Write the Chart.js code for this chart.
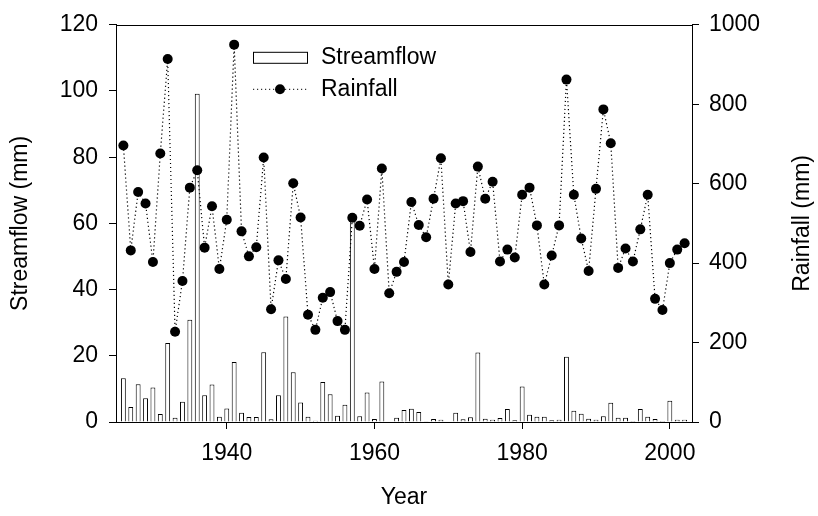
<!DOCTYPE html>
<html>
<head>
<meta charset="utf-8">
<script src="https://cdn.jsdelivr.net/npm/chart.js@4.4.1/dist/chart.umd.min.js"></script>
<style>
  html, body { margin: 0; padding: 0; background: #fff; }
  #wrap { width: 818px; height: 516px; position: relative; }
</style>
</head>
<body>
<div id="wrap"><canvas id="flowChart"></canvas></div>
<script>
// annual series, 1926 - 2002
const years = [
  1926, 1927, 1928, 1929, 1930, 1931, 1932, 1933, 1934, 1935,
  1936, 1937, 1938, 1939, 1940, 1941, 1942, 1943, 1944, 1945,
  1946, 1947, 1948, 1949, 1950, 1951, 1952, 1953, 1954, 1955,
  1956, 1957, 1958, 1959, 1960, 1961, 1962, 1963, 1964, 1965,
  1966, 1967, 1968, 1969, 1970, 1971, 1972, 1973, 1974, 1975,
  1976, 1977, 1978, 1979, 1980, 1981, 1982, 1983, 1984, 1985,
  1986, 1987, 1988, 1989, 1990, 1991, 1992, 1993, 1994, 1995,
  1996, 1997, 1998, 1999, 2000, 2001, 2002
];

// streamflow (mm)
const streamflow = [
  13.2, 4.5, 11.4, 7.2, 10.4, 2.4, 23.9, 1.3, 6.1, 30.9,
  99.2, 8.1, 11.3, 1.6, 4.1, 18.1, 2.8, 1.5, 1.5, 21.1,
  0.8, 8.1, 31.9, 15.0, 5.9, 1.6, 0.4, 12.1, 8.4, 1.9,
  5.2, 61.3, 1.7, 8.9, 0.9, 12.2, 0, 1.3, 3.6, 4.0,
  3.0, 0.2, 0.9, 0.7, 0, 2.8, 0.8, 1.4, 21.0, 1.0,
  0.7, 1.2, 3.9, 0.5, 10.7, 2.2, 1.6, 1.6, 0.5, 0.7,
  19.7, 3.4, 2.5, 1.0, 0.7, 1.7, 5.8, 1.3, 1.3, 0.3,
  3.9, 1.6, 0.9, 0.3, 6.4, 0.7, 0.7
];

// rainfall (mm)
const rainfall = [
  696, 432, 579, 550, 403, 676, 914, 227, 355, 590,
  634, 439, 543, 385, 509, 950, 480, 417, 440, 666,
  284, 407, 360, 601, 515, 270, 232, 313, 327, 254,
  232, 514, 494, 560, 385, 638, 324, 378, 403, 554,
  496, 465, 562, 664, 346, 550, 556, 428, 643, 562,
  605, 404, 434, 414, 572, 590, 495, 346, 419, 495,
  862, 572, 462, 380, 587, 787, 702, 388, 437, 404,
  485, 572, 310, 282, 400, 434, 450
];

const yearTicks = [1940, 1960, 1980, 2000];
const flowTicks = [0, 20, 40, 60, 80, 100, 120];
const rainTicks = [0, 200, 400, 600, 800, 1000];

const FONT = "'Liberation Sans', Arial, Helvetica, sans-serif";
Chart.defaults.font.family = FONT;
Chart.defaults.font.size = 23;
Chart.defaults.color = '#000';

// outward tick marks, no grid inside the plot
function axisGrid() {
  return {
    display: true,
    offset: false,
    drawOnChartArea: false,
    drawTicks: true,
    tickLength: 7,
    tickColor: '#000',
    tickWidth: 1
  };
}

// top frame line, legend and right-hand title
const extrasPlugin = {
  id: 'extras',
  afterDraw(chart) {
    const ctx = chart.ctx;
    const area = chart.chartArea;
    ctx.save();

    ctx.strokeStyle = '#000';
    ctx.lineWidth = 1;
    ctx.beginPath();
    ctx.moveTo(area.left, Math.round(area.top) + 0.5);
    ctx.lineTo(area.right, Math.round(area.top) + 0.5);
    ctx.stroke();

    // legend
    const lx = area.left + 137;
    const ly = area.top + 27;
    ctx.fillStyle = '#fff';
    ctx.fillRect(lx + 0.5, ly + 0.5, 54, 11);
    ctx.strokeRect(lx + 0.5, ly + 0.5, 54, 11);

    ctx.setLineDash([1.2, 2.8]);
    ctx.beginPath();
    ctx.moveTo(lx, ly + 37.5);
    ctx.lineTo(lx + 54, ly + 37.5);
    ctx.stroke();
    ctx.setLineDash([]);
    ctx.fillStyle = '#000';
    ctx.beginPath();
    ctx.arc(lx + 27, ly + 37.5, 5, 0, Math.PI * 2);
    ctx.fill();

    ctx.font = '23px ' + FONT;
    ctx.textAlign = 'left';
    ctx.textBaseline = 'middle';
    ctx.fillText(chart.data.datasets[1].label, lx + 68, ly + 6);
    ctx.fillText(chart.data.datasets[0].label, lx + 68, ly + 38);

    // right axis title, reading bottom to top
    ctx.translate(803, (area.top + area.bottom) / 2);
    ctx.rotate(-Math.PI / 2);
    ctx.textAlign = 'center';
    ctx.fillText('Rainfall (mm)', 0, 0);
    ctx.restore();
  }
};

new Chart(document.getElementById('flowChart'), {
  type: 'bar',
  data: {
    datasets: [
      {
        type: 'line',
        label: 'Rainfall',
        data: years.map((yr, i) => ({ x: yr, y: rainfall[i] })),
        yAxisID: 'y1',
        borderColor: '#000',
        borderWidth: 1.2,
        borderDash: [1.2, 2.8],
        pointRadius: 5,
        pointBorderWidth: 0,
        pointBackgroundColor: '#000',
        tension: 0,
        fill: false,
        order: 0
      },
      {
        type: 'bar',
        label: 'Streamflow',
        data: years.map((yr, i) => ({ x: yr, y: streamflow[i] })),
        yAxisID: 'y',
        backgroundColor: '#fff',
        borderColor: '#000',
        borderWidth: 1,
        barPercentage: 0.66,
        categoryPercentage: 1.0,
        order: 1
      }
    ]
  },
  options: {
    responsive: true,
    maintainAspectRatio: false,
    animation: false,
    layout: { padding: { top: 19, right: 0, bottom: 0, left: 0 } },
    plugins: {
      legend: { display: false },
      tooltip: { enabled: false }
    },
    scales: {
      x: {
        type: 'linear',
        min: 1925,
        max: 2003,
        offset: false,
        grid: axisGrid(),
        border: { display: true, color: '#000', width: 1 },
        ticks: { padding: 11, maxRotation: 0, callback: v => String(v) },
        afterBuildTicks: axis => { axis.ticks = yearTicks.map(v => ({ value: v })); },
        afterFit: axis => { axis.height = 94; },
        title: { display: true, text: 'Year', padding: { top: 0, bottom: 5 } }
      },
      y: {
        type: 'linear',
        position: 'left',
        min: 0,
        max: 120,
        grid: axisGrid(),
        border: { display: true, color: '#000', width: 1 },
        ticks: { padding: 11, callback: v => String(v) },
        afterBuildTicks: axis => { axis.ticks = flowTicks.map(v => ({ value: v })); },
        afterFit: axis => { axis.width = 116; },
        title: { display: true, text: 'Streamflow (mm)', padding: { top: 7, bottom: 0 } }
      },
      y1: {
        type: 'linear',
        position: 'right',
        min: 0,
        max: 1000,
        grid: axisGrid(),
        border: { display: true, color: '#000', width: 1 },
        ticks: { padding: 10, callback: v => String(v) },
        afterBuildTicks: axis => { axis.ticks = rainTicks.map(v => ({ value: v })); },
        afterFit: axis => { axis.width = 126; },
        title: { display: false }
      }
    }
  },
  plugins: [extrasPlugin]
});
</script>
</body>
</html>
